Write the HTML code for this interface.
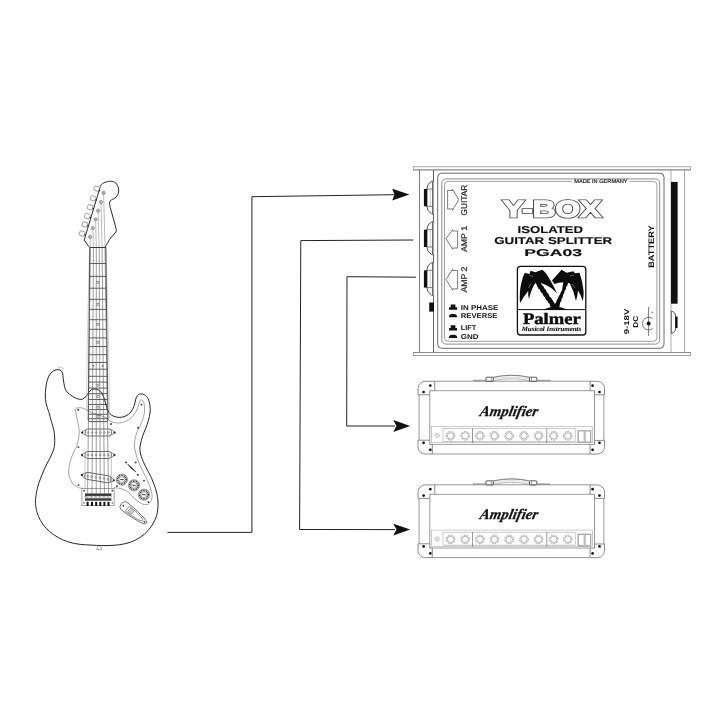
<!DOCTYPE html>
<html lang="en">
<head>
<meta charset="utf-8">
<title>Palmer Y-BOX PGA03 Isolated Guitar Splitter</title>
<style>
html,body{margin:0;padding:0;background:#fff;}
body{width:726px;height:726px;overflow:hidden;}
svg{display:block;will-change:transform;text-rendering:geometricPrecision;font-family:"Liberation Sans",sans-serif;}
.l{fill:none;stroke:#1c1c1c;stroke-width:.9;}
.w{fill:none;stroke:#222;stroke-width:1;}
.t{fill:none;stroke:#444;stroke-width:.7;}
.g{fill:none;stroke:#8a8a8a;stroke-width:.6;}
.k{fill:#111;stroke:none;}
.b{font-weight:bold;fill:#111;}
</style>
</head>
<body>
<svg width="726" height="726" viewBox="0 0 726 726">
<rect width="726" height="726" fill="#fff"/>

<!-- WIRES -->
<g id="wires">
<path class="w" d="M167.4 532.400 L251.900 532.400 L251.900 196.700 L394.500 194.700"/>
<path class="w" d="M413.2 240 L300.800 240.600 L299.600 529.500 L395 529.600"/>
<path class="w" d="M416 277.200 L347 276.700 L346.700 426 L395 426"/>
<path class="k" d="M409.400 194.500 L392.200 188.800 L394.500 194.600 L392.200 200.400 Z"/>
<path class="k" d="M410.200 529.600 L393.300 523.700 L396.500 529.600 L393.300 535.500 Z"/>
<path class="k" d="M410.200 426 L393.300 420.100 L396.500 426 L393.300 431.900 Z"/>
</g>

<g id="ybox">
<!-- flanges -->
<rect x="413.3" y="166.8" width="277.1" height="3.1" fill="#fff" stroke="#909090" stroke-width=".8"/>
<line x1="413.3" y1="169.9" x2="690.4" y2="169.9" stroke="#777" stroke-width=".7"/>
<rect x="413.3" y="352.500" width="277.1" height="3.1" fill="#fff" stroke="#909090" stroke-width=".8"/>
<line x1="413.3" y1="352.500" x2="690.4" y2="352.500" stroke="#777" stroke-width=".6"/>
<!-- outer sides -->
<line class="t" x1="419.5" y1="170.1" x2="419.5" y2="352.2"/>
<line x1="684.6" y1="170.1" x2="684.6" y2="352.2" stroke="#777" stroke-width=".7" fill="none"/>
<line x1="433.5" y1="170.1" x2="433.5" y2="352.2" stroke="#555" stroke-width=".9"/>
<line x1="671" y1="170.1" x2="671" y2="352.2" stroke="#777" stroke-width=".6"/>
<!-- panel -->
<rect x="437.7" y="173.2" width="226.3" height="175.1" rx="4" ry="4" fill="none" stroke="#383838" stroke-width=".75"/>
<rect x="441.8" y="178.900" width="217.9" height="165.200" rx="4.2" ry="4.2" fill="none" stroke="#666" stroke-width=".75"/>
<path fill="none" stroke="#777" stroke-width=".7" d="M571.8 181.400 H448 Q444.5 181.400 444.5 184.900 V337.800 Q444.5 341.300 448 341.300 H653.4 Q656.9 341.300 656.9 337.800 V184.900 Q656.9 181.400 653.4 181.400 H629.5"/>
<!-- battery bar -->
<rect class="k" x="671" y="181.9" width="6.6" height="121.8"/>
<!-- jacks -->
<g id="jk">
<path d="M433.500 181 L431.500 181.400 Q427 183.800 427 188 V207 Q427 211 431.500 213.700 L433.500 214.300" fill="#fff" stroke="#2a2a2a" stroke-width=".8"/>
<line x1="432.600" y1="181.200" x2="432.600" y2="214.200" stroke="#6a6a6a" stroke-width="1.200"/>
<line class="t" x1="430.200" y1="189.500" x2="430.200" y2="206" style="stroke:#999;stroke-width:.5"/>
<line class="t" x1="427" y1="189" x2="432.200" y2="189"/>
<line class="t" x1="427" y1="206.300" x2="432.200" y2="206.300"/>
<rect class="k" x="423.900" y="189" width="3.100" height="17.300"/>
</g>
<use href="#jk" y="40.700"/>
<use href="#jk" y="81.300"/>
<rect class="k" x="429.200" y="302.500" width="4.8" height="9.1"/>
<!-- dc jack side -->
<path d="M671.200 311.200 Q675.600 312 675.600 316 V328.600 Q675.600 332.600 671.200 333.400" fill="#fff" stroke="#2a2a2a" stroke-width=".8"/>
<line x1="671.300" y1="311.200" x2="671.300" y2="333.400" stroke="#666" stroke-width="1.100"/>
<rect class="k" x="675.200" y="316.500" width="2.400" height="11.600"/>
<!-- arrows -->
<path class="t" d="M447.600 190.500 H452.600 V189.200 L458.700 199.700 L452.600 210.200 V208.900 H447.600 Z"/>
<path class="t" d="M457.600 231 H452.600 V229.700 L446 238.700 L452.600 249.300 V248 H457.600 Z"/>
<path class="t" d="M457.600 270.500 H452.600 V269.200 L446 279.400 L452.600 290.200 V288.900 H457.600 Z"/>
<!-- rotated labels -->
<text class="n" transform="translate(467.200,215.400) rotate(-90)" font-size="8.300" textLength="30.600" lengthAdjust="spacingAndGlyphs" fill="#222" stroke="#222" stroke-width=".2">GUITAR</text>
<text transform="translate(467.200,252) rotate(-90)" font-size="8.300" textLength="26" lengthAdjust="spacingAndGlyphs" fill="#222" stroke="#222" stroke-width=".2">AMP 1</text>
<text transform="translate(467.200,292.600) rotate(-90)" font-size="8.300" textLength="26" lengthAdjust="spacingAndGlyphs" fill="#222" stroke="#222" stroke-width=".2">AMP 2</text>
<text class="b" transform="translate(654.400,267.800) rotate(-90)" font-size="8" textLength="42.500" lengthAdjust="spacingAndGlyphs">BATTERY</text>
<text class="b" transform="translate(629.300,334.300) rotate(-90)" font-size="7" textLength="25.600" lengthAdjust="spacingAndGlyphs">9-18V</text>
<text class="b" transform="translate(637.900,327.700) rotate(-90)" font-size="7" textLength="11.900" lengthAdjust="spacingAndGlyphs">DC</text>
<!-- dc symbol -->
<line class="t" x1="648.600" y1="307" x2="648.600" y2="336"/>
<path class="t" d="M652.800 318.800 A6.300 6.300 0 1 0 652.800 328.400"/>
<circle class="k" cx="648.600" cy="323.600" r="2"/>
<text x="651" y="313.800" font-size="4.500" fill="#555">+</text>
<text x="651" y="335" font-size="4.500" fill="#555">-</text>
<!-- made in germany -->
<text x="574.300" y="182.600" font-size="5.400" textLength="53.300" lengthAdjust="spacingAndGlyphs" fill="#111" stroke="#111" stroke-width=".15">MADE IN GERMANY</text>
<!-- title -->
<text x="503" y="217.400" font-size="23.600" font-weight="bold" textLength="98" lengthAdjust="spacingAndGlyphs" fill="#444" stroke="#444" stroke-width="2.700" stroke-linejoin="miter">Y-BOX</text>
<text x="503" y="217.400" font-size="23.600" font-weight="bold" textLength="98" lengthAdjust="spacingAndGlyphs" fill="#fff" stroke="#fff" stroke-width="1.200" stroke-linejoin="miter">Y-BOX</text>
<text class="b" x="517.600" y="232.500" font-size="9.900" textLength="65.400" lengthAdjust="spacingAndGlyphs" stroke="#111" stroke-width=".15">ISOLATED</text>
<text class="b" x="494.200" y="244.400" font-size="9.900" textLength="118" lengthAdjust="spacingAndGlyphs" stroke="#111" stroke-width=".15">GUITAR SPLITTER</text>
<text class="b" x="524.300" y="256.100" font-size="9.900" textLength="57.800" lengthAdjust="spacingAndGlyphs" stroke="#111" stroke-width=".15">PGA03</text>
<!-- switch legends -->
<g id="icoU"><path class="k" d="M450.700 304.600 H455.400 V307.200 H456.600 Q457.100 307.200 457.100 308.200 V309.800 H449 V308.200 Q449 307.200 449.500 307.200 H450.700 Z"/></g>
<g id="icoD"><path class="k" d="M449 317.200 V316 Q449.500 314 452 314 H454.100 Q456.600 314 457.100 316 V317.200 Z"/></g>
<use href="#icoU" y="20.700"/>
<use href="#icoD" y="20.700"/>
<text class="b" x="460.800" y="309.800" font-size="7" textLength="37.600" lengthAdjust="spacingAndGlyphs">IN PHASE</text>
<text class="b" x="460.800" y="318.100" font-size="7" textLength="36.700" lengthAdjust="spacingAndGlyphs">REVERSE</text>
<text class="b" x="460.800" y="330.400" font-size="7" textLength="15.600" lengthAdjust="spacingAndGlyphs">LIFT</text>
<text class="b" x="460.800" y="338.800" font-size="7" textLength="17.800" lengthAdjust="spacingAndGlyphs">GND</text>
<g id="logo">
<rect x="517.400" y="266.400" width="68.400" height="68.600" rx="3" ry="3" fill="#fff" stroke="#111" stroke-width="1.300"/>
<line x1="517.400" y1="309.600" x2="585.800" y2="309.600" stroke="#111" stroke-width="1"/>
<g transform="translate(515,262) scale(0.10331)" fill="#0c0c0c" stroke="none">
<!-- left palm fronds -->
<path d="M48 400 Q40 290 62 200 Q75 140 95 105 L140 117 L150 85 L196 100 L265 75 L300 110 Q350 185 405 300 Q355 245 300 222 L245 200 L200 200 Q160 250 135 360 Q125 320 128 280 Q85 330 48 400 Z"/>
<!-- left trunk -->
<path d="M196 192 L243 190 L262 225 L270 228 L288 262 L296 266 L312 300 L322 305 L338 340 L346 342 L385 405 L395 440 L345 440 L335 405 L325 400 L312 372 L302 368 L288 338 L278 332 L262 300 L252 295 L236 262 L226 258 Z"/>
<!-- right palm fronds -->
<path d="M450 75 L500 105 L565 90 L580 110 L625 105 Q655 190 665 290 Q665 340 655 378 Q640 320 610 275 Q605 330 590 378 Q570 280 530 205 L470 195 Q420 195 382 212 L358 180 Q410 120 450 75 Z"/>
<!-- right trunk -->
<path d="M468 190 L516 198 L505 230 L497 236 L490 268 L482 274 L475 306 L467 312 L461 344 L453 350 L447 382 L439 388 L432 420 L430 440 L375 440 L388 402 L396 398 L406 364 L414 358 L426 324 L434 320 L446 286 L454 280 Z"/>
<!-- mound -->
<path d="M270 462 Q330 432 390 430 Q450 432 510 462 Z"/>
</g>
<!-- highlights -->
<g stroke="#fff" stroke-width=".35" fill="none">
<line x1="529.500" y1="275.500" x2="533" y2="276.500"/>
<line x1="528.500" y1="288" x2="531" y2="284"/>
<line x1="570" y1="276" x2="574" y2="275"/>
<line x1="572" y1="284" x2="575" y2="288"/>
</g>
<text x="523" y="323.900" font-family="'Liberation Serif',serif" font-weight="bold" font-size="16" textLength="57.600" lengthAdjust="spacingAndGlyphs" fill="#0c0c0c" stroke="#0c0c0c" stroke-width=".45">Palmer</text>
<text x="521.700" y="331.300" font-family="'Liberation Serif',serif" font-weight="bold" font-style="italic" font-size="6.600" textLength="59.500" lengthAdjust="spacingAndGlyphs" fill="#111" stroke="#111" stroke-width=".12">Musical Instruments</text>
</g>

</g>

<defs>
<g id="knob">
<circle r="4.300" fill="none" stroke="#777" stroke-width="1" stroke-dasharray=".75 .94"/>
<circle r="3.200" fill="#fff" stroke="#888" stroke-width=".6"/>
</g>
<g id="amp">
<!-- handle -->
<path d="M473 380.500 H486 M537 380.500 H550.500" fill="none" stroke="#8a8a8a" stroke-width="1.500" stroke-dasharray=".7 .35"/>
<path d="M493.300 377.300 Q511.400 373.300 529.500 377.300 V380.700 Q511.400 376.700 493.300 380.700 Z" fill="#fff" stroke="#888" stroke-width=".6"/>
<path d="M493.300 377.300 Q511.400 373.300 529.500 377.300" fill="none" stroke="#555" stroke-width=".6"/>
<path d="M493.300 379 Q511.400 375 529.500 379" fill="none" stroke="#bbb" stroke-width=".5"/>
<rect x="486" y="377.200" width="7.300" height="4.200" rx=".8" fill="#fff" stroke="#333" stroke-width=".8"/>
<rect x="529.500" y="377.200" width="7.300" height="4.200" rx=".8" fill="#fff" stroke="#333" stroke-width=".8"/>
<path d="M491.300 377.600 V381 M531.500 377.600 V381" fill="none" stroke="#555" stroke-width=".6"/>
<!-- outer body -->
<path d="M434.800 381.200 H590.100 M429.800 394.800 V440.200 M419.100 394.800 V440.200 M594.500 394.800 V440.200 M603.900 394.800 V440.200 M432.300 454 H590.100" fill="none" stroke="#6a6a6a" stroke-width=".7"/>
<path d="M434.800 390.700 H590.100 M432.300 444.400 H590.100" fill="none" stroke="#777" stroke-width=".7"/>
<!-- corners -->
<g fill="#fff" stroke="#6e6e6e" stroke-width=".8">
<path d="M434.800 381.300 H425.200 A7.200 7.200 0 0 0 418 388.500 V394.800 H429.800 V390.700 H434.800 Z"/>
<path d="M590.100 381.300 H597.400 A7.200 7.200 0 0 1 604.500 388.500 V394.800 H594.500 V390.700 H590.100 Z"/>
<path d="M418 440.200 H429.800 V444.400 H432.300 V454 H425.200 A7.200 7.200 0 0 1 418 446.800 Z"/>
<path d="M604.500 440.400 H594.500 V444.400 H590.100 V454.100 H597.300 A7.200 7.200 0 0 0 604.500 446.900 Z"/>
</g>
<g fill="#111">
<circle cx="430.300" cy="385.600" r="1.350"/><circle cx="423.600" cy="392" r="1.350"/>
<circle cx="592.600" cy="385.600" r="1.350"/><circle cx="599.500" cy="392" r="1.350"/>
<circle cx="423.600" cy="442.800" r="1.350"/><circle cx="430.300" cy="449.800" r="1.350"/>
<circle cx="599.500" cy="442.800" r="1.350"/><circle cx="592.600" cy="449.800" r="1.350"/>
</g>
<!-- control panel -->
<rect x="431.500" y="426.500" width="161.100" height="16.200" fill="none" stroke="#aaa" stroke-width=".6"/>
<rect x="443" y="428.600" width="132.200" height="13" fill="none" stroke="#aaa" stroke-width=".6"/>
<rect x="443" y="441.200" width="132.200" height="1.700" fill="#cfcfcf"/>
<line x1="472.500" y1="428.500" x2="472.500" y2="443" stroke="#555" stroke-width=".6"/>
<line x1="546.800" y1="428.500" x2="546.800" y2="443" stroke="#555" stroke-width=".6"/>
<circle cx="437.300" cy="435.300" r="2" fill="none" stroke="#999" stroke-width=".6"/>
<circle cx="437.300" cy="435.300" r=".9" fill="none" stroke="#aaa" stroke-width=".4"/>
<use href="#knob" x="450.500" y="435.800"/><use href="#knob" x="465.100" y="435.800"/>
<use href="#knob" x="479.900" y="435.800"/><use href="#knob" x="494.400" y="435.800"/><use href="#knob" x="509.200" y="435.800"/><use href="#knob" x="524" y="435.800"/><use href="#knob" x="538.500" y="435.800"/>
<use href="#knob" x="553.700" y="435.800"/><use href="#knob" x="567.800" y="435.800"/>
<rect x="577.800" y="430.300" width="13.200" height="12.400" fill="none" stroke="#aaa" stroke-width=".6"/>
<rect x="578.600" y="431" width="5.500" height="11" fill="none" stroke="#8a8a8a" stroke-width=".65"/>
<rect x="585.100" y="431" width="5.500" height="11" fill="none" stroke="#8a8a8a" stroke-width=".65"/>
<text transform="translate(479.300,415.700) skewX(-12)" font-family="'Liberation Serif',serif" font-style="italic" font-weight="bold" font-size="14.600" textLength="58" lengthAdjust="spacingAndGlyphs" fill="#111" stroke="#111" stroke-width=".25">Amplifier</text>
</g>
</defs>
<use href="#amp"/>
<use href="#amp" y="103.600"/>

<!--GS-->
<g id="guitar">
<path d="M58.5 366.6 L63.8 368.3 L62.4 370.6 L59.6 369.6 Z" fill="#fff" stroke="#aaa" stroke-width=".6"/>
<path d="M97.9 545.6 L100.500 545.6 L101.700 549.600 L96.600 549.600 Z" fill="#fff" stroke="#777" stroke-width=".6"/>
<path d="M58.2 369.6 C59.4 369.6 60.2 370.1 60.9 370.7 C61.6 371.3 62.2 372.0 62.6 373.2 C63.0 374.4 62.9 376.4 63.1 378.1 C63.3 379.9 63.6 381.9 64.0 383.7 C64.4 385.5 64.6 387.6 65.3 389.2 C66.0 390.8 67.1 392.0 68.1 393.0 C69.0 394.0 69.8 394.5 71.0 395.3 C72.2 396.1 73.3 397.1 75.0 397.8 C76.7 398.5 79.4 399.6 81.2 399.4 C83.0 399.2 84.8 397.6 86.0 396.5 C87.2 395.4 87.7 393.7 88.6 392.6 C89.5 391.5 90.2 390.5 91.2 389.9 C92.2 389.3 93.5 388.9 94.8 389.0 C96.1 389.1 97.7 389.5 98.9 390.3 C100.1 391.1 101.3 392.2 102.2 393.7 C103.1 395.2 103.8 397.3 104.4 399.2 C105.0 401.1 105.5 403.2 106.0 405.0 C106.5 406.8 106.8 408.3 107.5 409.8 C108.2 411.3 108.9 412.8 110.0 413.9 C111.1 415.0 112.4 415.8 114.1 416.4 C115.8 417.0 118.0 417.5 119.9 417.4 C121.8 417.3 123.9 416.9 125.7 416.0 C127.5 415.1 129.2 413.9 130.6 412.3 C132.0 410.7 133.1 408.6 133.9 406.5 C134.7 404.4 135.1 401.7 135.6 399.9 C136.1 398.1 136.4 396.7 137.2 395.7 C138.0 394.7 139.2 394.0 140.5 393.9 C141.8 393.8 143.4 394.1 144.7 394.9 C145.9 395.7 147.1 396.8 148.0 398.6 C148.9 400.4 149.7 403.3 150.0 405.7 C150.3 408.1 150.3 410.6 150.0 413.1 C149.7 415.6 149.2 417.9 148.4 420.5 C147.7 423.1 146.5 426.2 145.5 428.8 C144.5 431.4 143.4 433.7 142.6 436.2 C141.8 438.7 140.9 441.8 140.5 444.0 C140.1 446.2 139.8 447.4 139.9 449.5 C140.0 451.6 140.4 453.7 141.3 456.5 C142.2 459.3 144.1 463.5 145.5 466.4 C146.9 469.3 148.4 471.7 149.5 474.0 C150.6 476.3 151.3 477.5 152.3 480.0 C153.3 482.5 154.7 485.9 155.6 488.8 C156.5 491.7 157.2 494.7 157.6 497.6 C158.0 500.5 158.2 503.4 158.0 506.4 C157.8 509.3 157.5 512.5 156.7 515.3 C155.9 518.1 154.9 520.4 153.4 523.0 C151.9 525.6 150.1 528.3 147.9 530.7 C145.7 533.1 143.1 535.4 140.2 537.3 C137.3 539.2 133.8 541.0 130.3 542.3 C126.8 543.5 123.1 544.2 119.2 544.8 C115.3 545.3 110.9 545.5 107.1 545.6 C103.3 545.7 100.2 545.5 96.6 545.4 C93.0 545.3 89.3 545.1 85.6 544.8 C81.9 544.5 78.3 544.3 74.6 543.5 C70.9 542.7 67.1 541.7 63.6 540.2 C60.1 538.7 56.7 536.7 53.7 534.7 C50.8 532.7 48.1 530.5 45.9 528.1 C43.7 525.7 41.9 522.9 40.4 520.3 C38.9 517.7 37.9 515.4 37.1 512.6 C36.3 509.9 35.7 506.2 35.5 503.8 C35.3 501.4 35.4 500.5 35.7 497.9 C36.0 495.3 36.6 491.3 37.4 488.0 C38.2 484.7 39.5 481.4 40.7 478.1 C41.9 474.8 43.3 471.5 44.8 468.2 C46.3 464.9 48.3 461.3 49.8 458.3 C51.2 455.3 52.7 452.5 53.5 450.0 C54.3 447.5 54.5 445.7 54.7 443.5 C54.9 441.3 54.7 439.2 54.6 437.0 C54.5 434.8 54.4 433.1 53.9 430.5 C53.4 427.9 52.3 424.6 51.4 421.4 C50.5 418.2 49.5 414.5 48.6 411.5 C47.7 408.5 46.7 406.1 46.1 403.3 C45.5 400.6 45.3 397.9 45.3 395.0 C45.3 392.1 45.8 388.4 46.1 385.9 C46.5 383.4 46.8 381.7 47.4 379.8 C48.0 377.9 48.8 375.8 49.9 374.3 C51.0 372.8 52.4 371.5 53.8 370.7 C55.2 369.9 57.0 369.6 58.2 369.6 Z" fill="#fff" stroke="#262626" stroke-width="1" stroke-linejoin="round"/>
<path d="M76.3 408.1 C77.0 408.0 79.0 407.6 80.4 407.7 C81.8 407.8 83.2 408.3 84.5 408.9 C85.8 409.4 86.4 410.2 88.2 411.0 C90.0 411.8 92.5 412.9 95.3 413.9 C98.1 414.9 103.0 416.2 105.2 417.2 C107.4 418.2 107.7 419.1 108.5 419.7 C109.3 420.3 109.1 420.5 110.0 421.0 C110.9 421.5 112.4 422.3 114.1 422.6 C115.8 422.9 118.0 423.1 119.9 422.9 C121.8 422.7 123.8 422.3 125.7 421.4 C127.6 420.5 129.8 419.1 131.4 417.6 C133.1 416.1 134.5 414.2 135.6 412.3 C136.7 410.4 137.4 408.3 138.1 406.5 C138.8 404.7 139.1 402.6 139.7 401.5 C140.2 400.4 140.8 399.7 141.4 399.7 C142.0 399.7 142.9 400.4 143.4 401.5 C143.9 402.6 144.3 404.6 144.5 406.5 C144.7 408.4 144.6 410.9 144.3 413.1 C144.0 415.3 143.4 417.5 142.6 419.7 C141.8 421.9 140.7 424.1 139.7 426.3 C138.7 428.5 137.6 430.8 136.8 432.9 C136.1 435.0 135.6 436.7 135.2 438.7 C134.8 440.7 134.5 443.2 134.5 445.0 C134.5 446.8 134.6 447.3 135.0 449.5 C135.4 451.7 136.1 455.1 137.2 458.2 C138.2 461.3 139.8 464.8 141.3 468.1 C142.8 471.4 144.8 474.7 146.3 478.0 C147.8 481.3 149.4 484.9 150.4 487.9 C151.4 490.9 152.1 493.8 152.1 496.2 C152.1 498.6 151.2 500.6 150.4 502.0 C149.6 503.4 148.6 504.2 147.1 504.5 C145.6 504.8 143.4 504.6 141.3 503.6 C139.2 502.6 136.9 500.6 134.7 498.7 C132.5 496.8 130.3 493.8 128.1 492.1 C125.9 490.5 123.4 489.5 121.5 488.8 C119.6 488.1 117.8 488.1 116.5 487.9 C115.2 487.7 114.4 487.7 114.0 487.6" fill="none" stroke="#666" stroke-width=".6"/>
<path d="M82.0 488.2 C81.5 488.1 80.1 488.2 78.7 487.6 C77.3 487.0 75.2 486.0 73.8 484.7 C72.4 483.4 71.3 481.6 70.5 479.8 C69.7 478.0 69.0 476.2 68.8 474.0 C68.6 471.8 68.8 469.1 69.2 466.5 C69.6 463.9 70.4 461.1 71.3 458.3 C72.2 455.6 73.7 452.0 74.6 450.0 C75.5 448.0 76.0 448.2 76.7 446.2 C77.4 444.2 78.3 440.6 78.7 438.0 C79.1 435.4 79.2 433.1 79.1 430.5 C79.0 427.9 78.5 425.2 77.9 422.3 C77.4 419.4 76.2 415.3 75.8 413.2 C75.3 411.1 75.1 410.5 75.2 409.6 C75.3 408.8 76.1 408.4 76.3 408.1" fill="none" stroke="#666" stroke-width=".6"/>
<circle cx="78.3" cy="409.8" r=".95" fill="#333"/>
<circle cx="111.0" cy="424.0" r=".95" fill="#333"/>
<circle cx="141.5" cy="404.6" r=".95" fill="#333"/>
<circle cx="138.1" cy="427.8" r=".95" fill="#333"/>
<circle cx="78.4" cy="447.1" r=".95" fill="#333"/>
<circle cx="78.6" cy="485.1" r=".95" fill="#333"/>
<circle cx="116.9" cy="486.1" r=".95" fill="#333"/>
<circle cx="126.0" cy="462.4" r=".95" fill="#333"/>
<circle cx="135.7" cy="462.4" r=".95" fill="#333"/>
<circle cx="137.8" cy="474.8" r=".95" fill="#333"/>
<circle cx="144.0" cy="480.6" r=".95" fill="#333"/>
<circle cx="148.4" cy="502.1" r=".95" fill="#333"/>
<path d="M89.5 250 L87.300 340 L86.5 411" fill="none" stroke="#aaa" stroke-width=".5"/>
<path d="M106.1 250 L108.500 340 L109.7 419" fill="none" stroke="#aaa" stroke-width=".5"/>
<path d="M89.8 247.2 L88.8 355 L88.2 419.6 Q88.2 421.600 90.2 421.600 L106 421.600 Q108 421.600 108 419.600 L107.1 355 L105.800 247.2 Z" fill="none" stroke="#2a2a2a" stroke-width=".8"/>
<line x1="89.6" y1="263.5" x2="106.0" y2="263.5" stroke="#2e2e2e" stroke-width=".75"/>
<line x1="89.5" y1="276.4" x2="106.2" y2="276.4" stroke="#2e2e2e" stroke-width=".75"/>
<line x1="89.4" y1="288.2" x2="106.3" y2="288.2" stroke="#2e2e2e" stroke-width=".75"/>
<line x1="89.3" y1="299.3" x2="106.4" y2="299.3" stroke="#2e2e2e" stroke-width=".75"/>
<line x1="89.2" y1="309.4" x2="106.6" y2="309.4" stroke="#2e2e2e" stroke-width=".75"/>
<line x1="89.1" y1="319.7" x2="106.7" y2="319.7" stroke="#2e2e2e" stroke-width=".75"/>
<line x1="89.0" y1="329.3" x2="106.8" y2="329.3" stroke="#2e2e2e" stroke-width=".75"/>
<line x1="89.0" y1="337.9" x2="106.9" y2="337.9" stroke="#2e2e2e" stroke-width=".75"/>
<line x1="88.9" y1="346.5" x2="107.0" y2="346.5" stroke="#2e2e2e" stroke-width=".75"/>
<line x1="88.8" y1="354.7" x2="107.1" y2="354.7" stroke="#2e2e2e" stroke-width=".75"/>
<line x1="88.7" y1="362.5" x2="107.2" y2="362.5" stroke="#2e2e2e" stroke-width=".75"/>
<line x1="88.7" y1="369.2" x2="107.3" y2="369.2" stroke="#2e2e2e" stroke-width=".75"/>
<line x1="88.6" y1="376.3" x2="107.4" y2="376.3" stroke="#2e2e2e" stroke-width=".75"/>
<line x1="88.6" y1="382.1" x2="107.5" y2="382.1" stroke="#2e2e2e" stroke-width=".75"/>
<line x1="88.5" y1="388.1" x2="107.5" y2="388.1" stroke="#2e2e2e" stroke-width=".75"/>
<line x1="88.5" y1="393.7" x2="107.6" y2="393.7" stroke="#2e2e2e" stroke-width=".75"/>
<line x1="88.4" y1="399.5" x2="107.7" y2="399.5" stroke="#2e2e2e" stroke-width=".75"/>
<line x1="88.4" y1="404.5" x2="107.8" y2="404.5" stroke="#2e2e2e" stroke-width=".75"/>
<line x1="88.3" y1="409.6" x2="107.8" y2="409.6" stroke="#2e2e2e" stroke-width=".75"/>
<line x1="88.3" y1="414.3" x2="107.9" y2="414.3" stroke="#2e2e2e" stroke-width=".75"/>
<line x1="88.2" y1="418.7" x2="108.0" y2="418.7" stroke="#2e2e2e" stroke-width=".75"/>
<line x1="89.6" y1="247.2" x2="106" y2="247.2" stroke="#1a1a1a" stroke-width="1.2"/>
<rect x="96.8" y="281.3" width="2" height="2" fill="#fff" stroke="#555" stroke-width=".5"/>
<rect x="96.9" y="303.4" width="2" height="2" fill="#fff" stroke="#555" stroke-width=".5"/>
<rect x="96.9" y="323.5" width="2" height="2" fill="#fff" stroke="#555" stroke-width=".5"/>
<rect x="96.9" y="341.2" width="2" height="2" fill="#fff" stroke="#555" stroke-width=".5"/>
<rect x="97.0" y="384.1" width="2" height="2" fill="#fff" stroke="#555" stroke-width=".5"/>
<rect x="97.0" y="395.6" width="2" height="2" fill="#fff" stroke="#555" stroke-width=".5"/>
<rect x="97.1" y="406.1" width="2" height="2" fill="#fff" stroke="#555" stroke-width=".5"/>
<rect x="97.1" y="415.5" width="2" height="2" fill="#fff" stroke="#555" stroke-width=".5"/>
<circle cx="93.3" cy="365.9" r=".8" fill="#555"/>
<circle cx="102.6" cy="365.9" r=".8" fill="#555"/>
<path d="M89.1 246.9 L84.2 240.0 L99.7 188.6  C100.0 187.9 100.4 185.4 101.5 184.3 C102.6 183.2 104.8 182.5 106.4 182.0 C108.0 181.5 109.5 181.0 111.1 181.2 C112.6 181.3 114.5 181.9 115.8 183.0 C117.0 184.2 118.1 186.2 118.5 188.0 C118.9 189.7 118.8 191.9 118.3 193.6 C117.7 195.2 116.3 196.9 115.2 197.9 C114.0 198.9 112.4 199.1 111.4 199.8 C110.5 200.4 109.9 201.6 109.6 202.0 Q109.3 204.1 110.2 207.2 L116.0 228.3 Q116.8 230.7 115.8 232.0 L109.6 239.4 L105.2 246.9" fill="#fff" stroke="#222" stroke-width=".95" stroke-linejoin="round"/>
<rect x="-2.6" y="-2.3" width="5.2" height="4.6" rx="1" transform="translate(96.6,188.6) rotate(16.8)" fill="#fff" stroke="#777" stroke-width=".65"/>
<rect x="-2.6" y="-2.3" width="5.2" height="4.6" rx="1" transform="translate(93.2,198.3) rotate(16.8)" fill="#fff" stroke="#777" stroke-width=".65"/>
<rect x="-2.6" y="-2.3" width="5.2" height="4.6" rx="1" transform="translate(90.1,207.2) rotate(16.8)" fill="#fff" stroke="#777" stroke-width=".65"/>
<rect x="-2.6" y="-2.3" width="5.2" height="4.6" rx="1" transform="translate(87.3,216.1) rotate(16.8)" fill="#fff" stroke="#777" stroke-width=".65"/>
<rect x="-2.6" y="-2.3" width="5.2" height="4.6" rx="1" transform="translate(84.8,224.5) rotate(16.8)" fill="#fff" stroke="#777" stroke-width=".65"/>
<rect x="-2.6" y="-2.3" width="5.2" height="4.6" rx="1" transform="translate(82.1,233.5) rotate(16.8)" fill="#fff" stroke="#777" stroke-width=".65"/>
<circle cx="99.4" cy="190.8" r=".8" fill="#222"/>
<circle cx="96.2" cy="200.0" r=".8" fill="#222"/>
<circle cx="93.2" cy="208.7" r=".8" fill="#222"/>
<circle cx="90.4" cy="217.6" r=".8" fill="#222"/>
<circle cx="87.8" cy="226.0" r=".8" fill="#222"/>
<circle cx="85.2" cy="235.0" r=".8" fill="#222"/>
<path d="M90.1 236.9 L90.4 247.2" fill="none" stroke="#777" stroke-width=".5"/>
<path d="M92.8 228.0 L93.4 247.2" fill="none" stroke="#777" stroke-width=".5"/>
<path d="M95.6 219.3 L96.3 247.2" fill="none" stroke="#777" stroke-width=".5"/>
<path d="M98.1 210.7 L99.2 247.2" fill="none" stroke="#777" stroke-width=".5"/>
<path d="M100.9 202.0 L102.1 247.2" fill="none" stroke="#777" stroke-width=".5"/>
<path d="M103.6 192.9 L105.0 247.2" fill="none" stroke="#777" stroke-width=".5"/>
<circle cx="103.6" cy="192.9" r="1.6" fill="#ccc" stroke="#666" stroke-width=".6"/>
<circle cx="103.6" cy="192.9" r=".6" fill="#888"/>
<circle cx="100.9" cy="202.0" r="1.6" fill="#ccc" stroke="#666" stroke-width=".6"/>
<circle cx="100.9" cy="202.0" r=".6" fill="#888"/>
<circle cx="98.1" cy="210.7" r="1.6" fill="#ccc" stroke="#666" stroke-width=".6"/>
<circle cx="98.1" cy="210.7" r=".6" fill="#888"/>
<circle cx="95.6" cy="219.3" r="1.6" fill="#ccc" stroke="#666" stroke-width=".6"/>
<circle cx="95.6" cy="219.3" r=".6" fill="#888"/>
<circle cx="92.8" cy="228.0" r="1.6" fill="#ccc" stroke="#666" stroke-width=".6"/>
<circle cx="92.8" cy="228.0" r=".6" fill="#888"/>
<circle cx="90.1" cy="236.9" r="1.6" fill="#ccc" stroke="#666" stroke-width=".6"/>
<circle cx="90.1" cy="236.9" r=".6" fill="#888"/>
<g transform="translate(98.4,432.5) rotate(0.0)"><path d="M-12.8 -2.6 L-16 -1 L-16 1 L-12.8 2.6 M12.8 -2.6 L16 -1 L16 1 L12.8 2.6" fill="none" stroke="#555" stroke-width=".6"/><rect x="-13.2" y="-3.5" width="26.4" height="7" rx="2.6" fill="#fff" stroke="#333" stroke-width=".7"/><circle cx="-10.3" cy="0" r=".85" fill="none" stroke="#555" stroke-width=".5"/><circle cx="-6.2" cy="0" r=".85" fill="none" stroke="#555" stroke-width=".5"/><circle cx="-2.1" cy="0" r=".85" fill="none" stroke="#555" stroke-width=".5"/><circle cx="2.1" cy="0" r=".85" fill="none" stroke="#555" stroke-width=".5"/><circle cx="6.2" cy="0" r=".85" fill="none" stroke="#555" stroke-width=".5"/><circle cx="10.3" cy="0" r=".85" fill="none" stroke="#555" stroke-width=".5"/><circle cx="-16.2" cy="0" r="1.1" fill="#222"/><circle cx="16.2" cy="0" r="1.1" fill="#222"/></g>
<g transform="translate(98.2,455.0) rotate(0.0)"><path d="M-12.8 -2.6 L-16 -1 L-16 1 L-12.8 2.6 M12.8 -2.6 L16 -1 L16 1 L12.8 2.6" fill="none" stroke="#555" stroke-width=".6"/><rect x="-13.2" y="-3.5" width="26.4" height="7" rx="2.6" fill="#fff" stroke="#333" stroke-width=".7"/><circle cx="-10.3" cy="0" r=".85" fill="none" stroke="#555" stroke-width=".5"/><circle cx="-6.2" cy="0" r=".85" fill="none" stroke="#555" stroke-width=".5"/><circle cx="-2.1" cy="0" r=".85" fill="none" stroke="#555" stroke-width=".5"/><circle cx="2.1" cy="0" r=".85" fill="none" stroke="#555" stroke-width=".5"/><circle cx="6.2" cy="0" r=".85" fill="none" stroke="#555" stroke-width=".5"/><circle cx="10.3" cy="0" r=".85" fill="none" stroke="#555" stroke-width=".5"/><circle cx="-16.2" cy="0" r="1.1" fill="#222"/><circle cx="16.2" cy="0" r="1.1" fill="#222"/></g>
<g transform="translate(97.8,477.6) rotate(9.5)"><path d="M-12.8 -2.6 L-16 -1 L-16 1 L-12.8 2.6 M12.8 -2.6 L16 -1 L16 1 L12.8 2.6" fill="none" stroke="#555" stroke-width=".6"/><rect x="-13.2" y="-3.5" width="26.4" height="7" rx="2.6" fill="#fff" stroke="#333" stroke-width=".7"/><circle cx="-10.3" cy="0" r=".85" fill="none" stroke="#555" stroke-width=".5"/><circle cx="-6.2" cy="0" r=".85" fill="none" stroke="#555" stroke-width=".5"/><circle cx="-2.1" cy="0" r=".85" fill="none" stroke="#555" stroke-width=".5"/><circle cx="2.1" cy="0" r=".85" fill="none" stroke="#555" stroke-width=".5"/><circle cx="6.2" cy="0" r=".85" fill="none" stroke="#555" stroke-width=".5"/><circle cx="10.3" cy="0" r=".85" fill="none" stroke="#555" stroke-width=".5"/><circle cx="-16.2" cy="0" r="1.1" fill="#222"/><circle cx="16.2" cy="0" r="1.1" fill="#222"/></g>
<rect x="81.9" y="488.5" width="32.2" height="17.2" fill="#fff" stroke="#666" stroke-width=".6"/>
<circle cx="84" cy="490.7" r=".9" fill="#444"/><circle cx="112.3" cy="490.7" r=".9" fill="#444"/>
<rect x="85" y="493.5" width="26.4" height="2.4" fill="#333"/>
<rect x="85" y="496.400" width="26.4" height="1.3" fill="#fff" stroke="#555" stroke-width=".4"/>
<rect x="85" y="498.300" width="26.4" height="2.400" fill="#3a3a3a"/>
<rect x="86.6" y="501.8" width="2" height="4.2" fill="#111"/>
<rect x="88.6" y="496.2" width="1.2" height="1.700" fill="#fff"/>
<rect x="91.0" y="501.8" width="2" height="4.2" fill="#111"/>
<rect x="93.0" y="496.2" width="1.2" height="1.700" fill="#fff"/>
<rect x="95.2" y="501.8" width="2" height="4.2" fill="#111"/>
<rect x="97.2" y="496.2" width="1.2" height="1.700" fill="#fff"/>
<rect x="99.3" y="501.8" width="2" height="4.2" fill="#111"/>
<rect x="101.3" y="496.2" width="1.2" height="1.700" fill="#fff"/>
<rect x="103.4" y="501.8" width="2" height="4.2" fill="#111"/>
<rect x="105.4" y="496.2" width="1.2" height="1.700" fill="#fff"/>
<rect x="107.5" y="501.8" width="2" height="4.2" fill="#111"/>
<rect x="109.5" y="496.2" width="1.2" height="1.700" fill="#fff"/>
<circle cx="84" cy="503" r=".8" fill="#555"/><circle cx="112.3" cy="503" r=".8" fill="#555"/>
<path d="M90.4 247.2 L87.6 494" fill="none" stroke="#5a5a5a" stroke-width=".6"/>
<path d="M93.4 247.2 L92.0 494" fill="none" stroke="#5a5a5a" stroke-width=".6"/>
<path d="M96.3 247.2 L96.2 494" fill="none" stroke="#5a5a5a" stroke-width=".6"/>
<path d="M99.2 247.2 L100.3 494" fill="none" stroke="#5a5a5a" stroke-width=".6"/>
<path d="M102.1 247.2 L104.4 494" fill="none" stroke="#5a5a5a" stroke-width=".6"/>
<path d="M105.0 247.2 L108.5 494" fill="none" stroke="#5a5a5a" stroke-width=".6"/>
<path d="M85 458.6 V488.5 M111.4 458.6 V488.5" fill="none" stroke="#888" stroke-width=".5"/>
<circle cx="121.9" cy="479.6" r="5.600" fill="#fff" stroke="#444" stroke-width=".55"/>
<circle cx="121.9" cy="479.6" r="4.250" fill="none" stroke="#333" stroke-width="1.700" stroke-dasharray=".95 .72"/>
<circle cx="121.9" cy="479.6" r="3" fill="#fff" stroke="#555" stroke-width=".5"/>
<line x1="120.2" y1="479.6" x2="123.6" y2="479.6" stroke="#222" stroke-width=".9"/>
<circle cx="134.0" cy="485.3" r="5.600" fill="#fff" stroke="#444" stroke-width=".55"/>
<circle cx="134.0" cy="485.3" r="4.250" fill="none" stroke="#333" stroke-width="1.700" stroke-dasharray=".95 .72"/>
<circle cx="134.0" cy="485.3" r="3" fill="#fff" stroke="#555" stroke-width=".5"/>
<line x1="132.3" y1="485.3" x2="135.7" y2="485.3" stroke="#222" stroke-width=".9"/>
<circle cx="143.9" cy="494.7" r="5.600" fill="#fff" stroke="#444" stroke-width=".55"/>
<circle cx="143.9" cy="494.7" r="4.250" fill="none" stroke="#333" stroke-width="1.700" stroke-dasharray=".95 .72"/>
<circle cx="143.9" cy="494.7" r="3" fill="#fff" stroke="#555" stroke-width=".5"/>
<line x1="142.2" y1="494.7" x2="145.6" y2="494.7" stroke="#222" stroke-width=".9"/>
<path d="M127.6 464.1 L131.300 468.500 L135.900 472 L132.100 467.700 Z" fill="#222" stroke="#222" stroke-width=".5" stroke-linejoin="round"/>
<g transform="translate(133.7,513.700) rotate(37.5)">
<path d="M-15.8 0 Q-15.800 -5 -11 -5 Q-3 -5 7 -3.500 Q15.800 -2.600 15.800 0 Q15.800 2.600 7 3.300 Q-3 4.600 -11 4.600 Q-15.800 4.600 -15.800 0 Z" fill="#fff" stroke="#444" stroke-width=".7"/>
<path d="M-8 -3.3 Q0 -3.300 7 -2.100 Q11.500 -1.200 11.500 0 Q11.500 1.200 7 2 Q0 3.100 -8 3.100 Z" fill="#fff" stroke="#555" stroke-width=".6"/>
<rect x="-6" y="-2.300" width="4.600" height="4.400" rx=".8" fill="#fff" stroke="#555" stroke-width=".6"/>
<path d="M-5 -1.200 H-2.400 M-5 -.4 H-2.400 M-5 .4 H-2.400 M-5 1.200 H-2.400" fill="none" stroke="#666" stroke-width=".4"/>
<circle cx="-13" cy="0" r=".9" fill="#333"/><circle cx="13.400" cy="0" r=".9" fill="#333"/>
</g>
</g>
<!--GE-->
</svg>
</body>
</html>
